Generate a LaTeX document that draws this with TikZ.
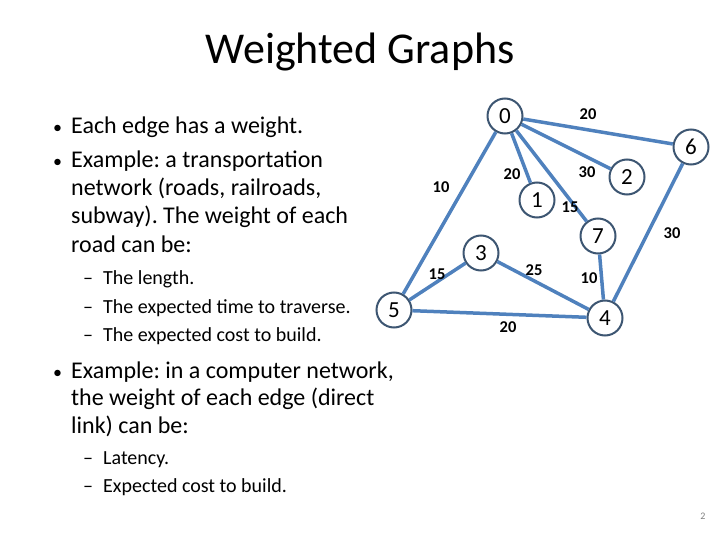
\documentclass[tikz,border=0pt]{standalone}
\usepackage{fontspec}
\setmainfont{Carlito}
\frenchspacing
\definecolor{edgeblue}{HTML}{4F81BD}
\definecolor{ringcol}{HTML}{3D5672}
\begin{document}
\begin{tikzpicture}[x=1pt,y=-1pt,
  vtx/.style={circle,draw=ringcol,line width=2pt,fill=white,minimum size=35pt,inner sep=0pt,font=\fontsize{23}{25}\selectfont},
  edge/.style={draw=edgeblue,line width=3.5pt},
  wlab/.style={font=\fontsize{16.5}{18}\selectfont\bfseries,inner sep=0pt},
  big/.style={anchor=base west,inner sep=0pt,font=\fontsize{24}{28}\selectfont},
  bul/.style={anchor=base west,inner sep=0pt,font=\fontsize{18}{22}\selectfont},
  sub/.style={anchor=base west,inner sep=0pt,font=\fontsize{20}{24}\selectfont}]
\useasboundingbox (0,0) rectangle (720,540);
\node[font=\fontsize{44}{50}\selectfont,inner sep=0pt] (title) at (360,52) {Weighted Graphs};
% left text
\node[bul] (b1) at (53,134) {\textbullet};
\node[big] (t1) at (71,134) {Each edge has a weight.};
\node[bul] (b2) at (53,168) {\textbullet};
\node[big] (t2) at (71,168) {Example: a transportation};
\node[big] (t3) at (71,196) {network (roads, railroads,};
\node[big] (t4) at (71,224) {subway). The weight of each};
\node[big] (t5) at (71,252) {road can be:};
\node[sub] (d1) at (83,284) {--};
\node[sub] (s1) at (103,284) {The length.};
\node[sub] (d2) at (83,313) {--};
\node[sub] (s2) at (103,313) {The expected time to traverse.};
\node[sub] (d3) at (83,341) {--};
\node[sub] (s3) at (103,341) {The expected cost to build.};
\node[bul] (b3) at (53,378) {\textbullet};
\node[big] (t6) at (71,378) {Example: in a computer network,};
\node[big] (t7) at (71,405) {the weight of each edge (direct};
\node[big] (t8) at (71,433) {link) can be:};
\node[sub] (d4) at (83,464) {--};
\node[sub] (s4) at (103,464) {Latency.};
\node[sub] (d5) at (83,492) {--};
\node[sub] (s5) at (103,492) {Expected cost to build.};
\node[font=\fontsize{10}{12}\selectfont,text=gray] (pg) at (703,516) {2};
% graph
\node[vtx] (n0) at (505,116) {0};
\node[vtx] (n6) at (691,147) {6};
\node[vtx] (n2) at (627,177) {2};
\node[vtx] (n1) at (537,200) {1};
\node[vtx] (n7) at (598,236) {7};
\node[vtx] (n3) at (481,253) {3};
\node[vtx] (n5) at (394,310) {5};
\node[vtx] (n4) at (605,318) {4};
\draw[edge] (n0) -- (n6);
\draw[edge] (n0) -- (n2);
\draw[edge] (n0) -- (n1);
\draw[edge] (n0) -- (n7);
\draw[edge] (n0) -- (n5);
\draw[edge] (n6) -- (n4);
\draw[edge] (n7) -- (n4);
\draw[edge] (n3) -- (n4);
\draw[edge] (n3) -- (n5);
\draw[edge] (n5) -- (n4);
\node[wlab] (w06) at (588,114) {20};
\node[wlab] (w02) at (587,172) {30};
\node[wlab] (w01) at (512,174) {20};
\node[wlab] (w07) at (570,207) {15};
\node[wlab] (w05) at (441,187) {10};
\node[wlab] (w64) at (672,233) {30};
\node[wlab] (w74) at (589,278) {10};
\node[wlab] (w34) at (534,270) {25};
\node[wlab] (w35) at (437,274) {15};
\node[wlab] (w54) at (508,327) {20};
\end{tikzpicture}
\end{document}
